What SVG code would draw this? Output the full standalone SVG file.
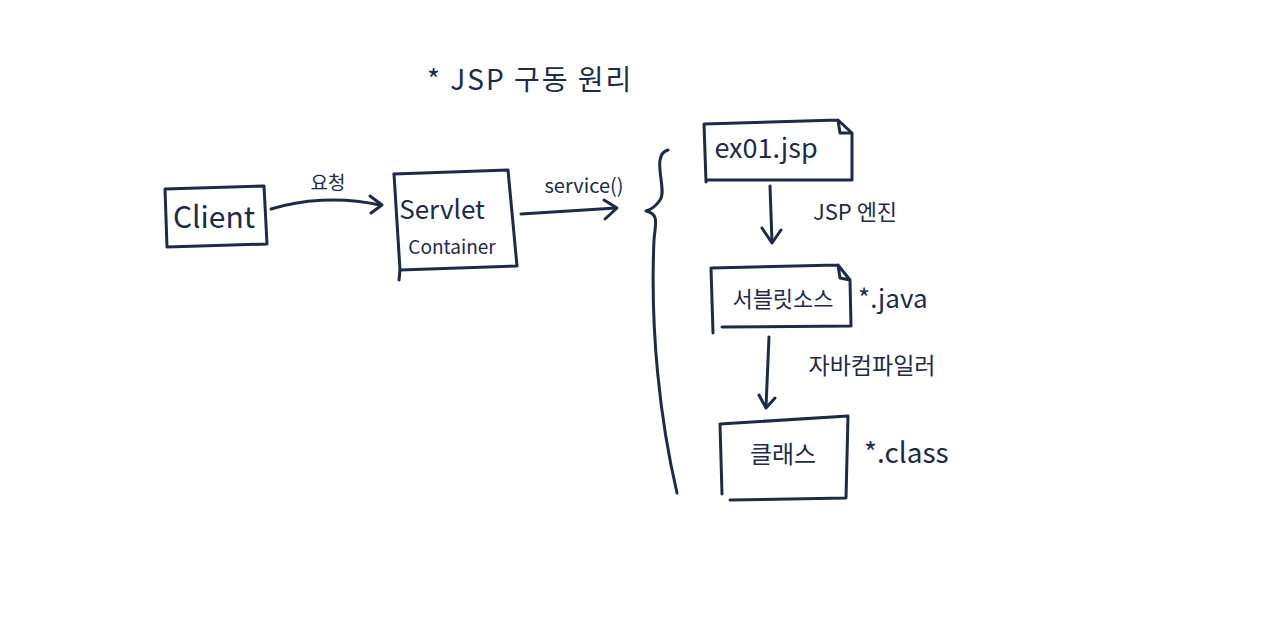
<svg xmlns="http://www.w3.org/2000/svg" width="1280" height="635" viewBox="0 0 1280 635">
<style>
.ln{fill:none;stroke:#1d2a48;stroke-width:3;stroke-linecap:round;stroke-linejoin:round}
.t{fill:#1d2a48;font-family:"Noto Sans CJK KR","Noto Sans",sans-serif}
</style>
<rect width="1280" height="635" fill="#ffffff"/>
<g id="title"><text class="t" x="427" y="90" font-size="28" letter-spacing="2">* JSP 구동 원리</text></g>
<g id="client">
<path class="ln" d="M165,189 L264,186 L267,244 L167,247 Z"/>
<text class="t" x="214" y="228" font-size="30" text-anchor="middle">Client</text>
</g>
<g id="servlet-container">
<path class="ln" d="M394,174 L508,170 L517,266 L400,270 L399,280"/>
<path class="ln" d="M394,174 L400,270"/>
<text class="t" x="442" y="219" font-size="26" text-anchor="middle">Servlet</text>
<text class="t" x="452" y="254" font-size="19" text-anchor="middle">Container</text>
</g>
<g id="ex01jsp">
<path class="ln" d="M704,124 L838,120 L852,133 L852,180 L706,180 M704,124 L706,182 M838,120 L840,133 L852,133"/>
<text class="t" x="766" y="158" font-size="27" text-anchor="middle">ex01.jsp</text>
</g>
<g id="servlet-source">
<path class="ln" d="M711,268 L838,265 L850,280 L851,326 L722,327 M711,268 L713,333 M838,265 L840,278 L850,280"/>
<text class="t" x="783" y="307" font-size="22" text-anchor="middle">서블릿소스</text>
<text class="t" x="858" y="308" font-size="26">*.java</text>
</g>
<g id="class">
<path class="ln" d="M720,424 L848,416 L846,498 L730,500 M720,424 L722,494"/>
<text class="t" x="783" y="463" font-size="24" text-anchor="middle">클래스</text>
<text class="t" x="864" y="463" font-size="28">*.class</text>
</g>
<g id="connectors">
<path class="ln" d="M271,209 C300,200 340,196 380,205"/>
<path class="ln" d="M370,196 L382,205 L371,213"/>
<text class="t" x="328" y="190" font-size="19" text-anchor="middle">요청</text>
<path class="ln" d="M521,214 L616,208"/>
<path class="ln" d="M604,200 L617,208 L605,219"/>
<text class="t" x="584" y="193" font-size="20" text-anchor="middle">service()</text>
<path class="ln" d="M668,150 C650,155 668,190 660,200 C656,206 650,210 646,211 C660,214 655,225 654,240 C650,330 660,420 677,493"/>
<path class="ln" d="M770,186 L772,242"/>
<path class="ln" d="M762,228 L772,243 L781,230"/>
<text class="t" x="855" y="220" font-size="22" text-anchor="middle">JSP 엔진</text>
<path class="ln" d="M769,337 L766,407"/>
<path class="ln" d="M759,395 L766,408 L775,398"/>
<text class="t" x="872" y="374" font-size="23" text-anchor="middle">자바컴파일러</text>
</g>
</svg>
